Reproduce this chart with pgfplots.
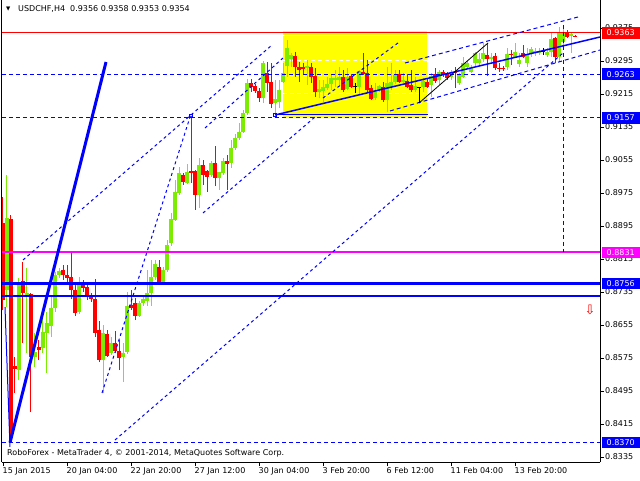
\documentclass[border=0pt]{standalone}
\usepackage{pgfplots}
\pgfplotsset{compat=1.18}
\usepackage{pgfplotstable}
\usepackage{fontspec}
\setmainfont{DejaVu Sans}
\definecolor{cgreen}{RGB}{124,236,0}
\definecolor{cred}{RGB}{255,0,0}
\definecolor{cblue}{RGB}{0,0,255}
\definecolor{cmag}{RGB}{255,0,255}
\definecolor{cyel}{RGB}{255,255,0}

\pgfplotstableread{
i O H L C
1 0.87399 0.90187 0.86987 0.89145
4 0.85460 0.87690 0.85218 0.87569
6 0.87278 0.87933 0.85872 0.87327
8 0.85775 0.86357 0.85533 0.85897
10 0.85993 0.86915 0.85872 0.86381
11 0.86357 0.86866 0.85387 0.86599
12 0.86527 0.87230 0.86260 0.86963
13 0.86963 0.87836 0.86866 0.87763
14 0.87763 0.87933 0.87690 0.87860
19 0.86866 0.87715 0.86818 0.87569
25 0.85703 0.86551 0.84903 0.86357
27 0.85872 0.86260 0.85824 0.86115
30 0.85775 0.86115 0.85169 0.85872
31 0.85897 0.87351 0.85848 0.87012
34 0.86769 0.87133 0.86745 0.87084
35 0.87084 0.87278 0.87012 0.87181
36 0.87133 0.87884 0.87012 0.87327
37 0.87327 0.88127 0.87012 0.87715
38 0.87715 0.88127 0.87642 0.88030
40 0.87569 0.87957 0.87545 0.87884
41 0.87884 0.88611 0.87836 0.88490
42 0.88539 0.89266 0.88466 0.89120
43 0.89096 0.90066 0.89072 0.89775
44 0.89751 0.90381 0.89702 0.90235
46 0.89993 0.90454 0.89969 0.90260
49 0.89702 0.90599 0.89387 0.90429
52 0.90187 0.90526 0.90139 0.90478
54 0.90114 0.90260 0.89823 0.90260
55 0.90235 0.90599 0.90187 0.90526
57 0.90478 0.91035 0.90357 0.90841
58 0.90841 0.91181 0.90793 0.91084
59 0.91084 0.91447 0.91035 0.91229
60 0.91229 0.91763 0.91205 0.91690
61 0.91690 0.92514 0.91641 0.92417
65 0.92053 0.92950 0.91932 0.92902
68 0.91932 0.92490 0.91666 0.92029
69 0.91957 0.92490 0.91811 0.92247
70 0.92441 0.92902 0.92417 0.92659
71 0.92829 0.93459 0.92563 0.93265
72 0.92999 0.93144 0.92805 0.93096
76 0.92781 0.92975 0.92369 0.92829
79 0.92199 0.92490 0.92053 0.92272
80 0.92223 0.92490 0.91957 0.92320
81 0.92296 0.92563 0.92247 0.92393
82 0.92393 0.92611 0.92247 0.92538
83 0.92490 0.92732 0.92320 0.92538
84 0.92490 0.92805 0.92369 0.92563
86 0.92272 0.92781 0.92247 0.92563
89 0.92320 0.92732 0.92126 0.92708
93 0.92053 0.92417 0.92005 0.92247
94 0.92247 0.92369 0.92199 0.92344
96 0.92005 0.92805 0.91714 0.92417
97 0.92320 0.92902 0.92247 0.92441
98 0.92441 0.92732 0.92393 0.92611
100 0.92441 0.92659 0.92417 0.92490
103 0.92247 0.92563 0.92199 0.92344
105 0.92320 0.92538 0.92199 0.92466
107 0.92369 0.92659 0.92078 0.92587
109 0.92490 0.92732 0.92369 0.92684
112 0.92563 0.92732 0.92490 0.92684
114 0.92417 0.92659 0.92369 0.92611
115 0.92563 0.93047 0.92538 0.92902
116 0.92805 0.92975 0.92781 0.92902
117 0.92684 0.92853 0.92659 0.92781
118 0.92902 0.93169 0.92805 0.93144
119 0.92902 0.93144 0.92853 0.92999
120 0.92999 0.93387 0.92926 0.93144
122 0.92999 0.93144 0.92926 0.93047
126 0.92805 0.93265 0.92732 0.93120
128 0.93047 0.93387 0.93023 0.93169
129 0.92878 0.93144 0.92805 0.92975
131 0.92902 0.93265 0.92805 0.93120
132 0.93120 0.93290 0.93047 0.93241
133 0.93144 0.93265 0.93072 0.93193
134 0.93144 0.93265 0.93096 0.93193
136 0.93096 0.93265 0.93047 0.93169
137 0.93169 0.93629 0.93047 0.93484
139 0.93047 0.93775 0.92926 0.93629
140 0.93411 0.93823 0.93338 0.93629
142 0.93556 0.93629 0.93144 0.93605
}\greentab

\pgfplotstableread{
i O H L C
0 0.89023 0.89654 0.86915 0.87157
2 0.89120 0.89217 0.83700 0.83820
3 0.85557 0.85775 0.84903 0.85484
5 0.87618 0.88078 0.86115 0.87327
7 0.87302 0.87327 0.84442 0.85775
9 0.86018 0.86187 0.85703 0.85945
15 0.87884 0.88005 0.87642 0.87763
16 0.87763 0.88005 0.87569 0.87690
17 0.87715 0.88345 0.87181 0.87399
18 0.87399 0.87545 0.86769 0.86842
20 0.87521 0.87642 0.87351 0.87448
21 0.87472 0.87569 0.87157 0.87230
22 0.87230 0.87327 0.87109 0.87181
23 0.87181 0.87666 0.86260 0.86357
24 0.86430 0.86648 0.85654 0.85703
26 0.86333 0.86430 0.85775 0.85800
28 0.86115 0.86406 0.85872 0.85921
29 0.85921 0.86187 0.85460 0.85751
32 0.87036 0.87399 0.86915 0.86963
33 0.87084 0.87205 0.86672 0.86769
39 0.87957 0.88127 0.87545 0.87569
45 0.90187 0.90235 0.89945 0.90017
47 0.90284 0.91620 0.89993 0.90235
48 0.90284 0.90308 0.89339 0.89702
50 0.90429 0.90551 0.89945 0.90187
51 0.90284 0.90308 0.89775 0.90139
53 0.90478 0.90890 0.89920 0.90114
56 0.90526 0.90672 0.89823 0.90454
62 0.92417 0.92514 0.92199 0.92320
63 0.92344 0.92393 0.92175 0.92223
64 0.92223 0.92296 0.91957 0.92053
66 0.92659 0.92926 0.92199 0.92417
67 0.92441 0.92902 0.91811 0.91908
73 0.93072 0.93169 0.92563 0.92805
74 0.92805 0.92926 0.92441 0.92732
75 0.92805 0.92902 0.92611 0.92756
77 0.92805 0.92902 0.92417 0.92563
78 0.92587 0.92781 0.92078 0.92199
85 0.92563 0.92732 0.92199 0.92247
87 0.92587 0.92635 0.92296 0.92320
90 0.92684 0.93144 0.92611 0.92635
91 0.92659 0.92975 0.92199 0.92247
92 0.92296 0.92369 0.92005 0.92029
95 0.92320 0.92441 0.91957 0.92005
99 0.92635 0.92732 0.92417 0.92441
101 0.92466 0.92635 0.92296 0.92320
102 0.92369 0.92732 0.92199 0.92247
106 0.92441 0.92538 0.92296 0.92320
108 0.92635 0.92781 0.92417 0.92466
110 0.92684 0.92732 0.92563 0.92611
111 0.92659 0.92684 0.92490 0.92538
113 0.92684 0.92805 0.92296 0.92659
121 0.93096 0.93387 0.92587 0.92999
123 0.93072 0.93144 0.92732 0.92781
124 0.92781 0.92902 0.92684 0.92756
125 0.92781 0.92829 0.92708 0.92756
127 0.93120 0.93217 0.92853 0.93096
130 0.93144 0.93338 0.93023 0.93047
138 0.93508 0.93532 0.92902 0.93047
141 0.93653 0.93702 0.93508 0.93532
143 0.93560 0.93580 0.93530 0.93540
}\redtab

\pgfplotstableread{
i O H L C
88 0.92344 0.92417 0.92175 0.92344
104 0.92296 0.92320 0.91932 0.92296
135 0.93169 0.93265 0.93096 0.93169
}\dojitab

\begin{document}
\begin{tikzpicture}
\useasboundingbox (0,0) rectangle (640pt,480pt);
\fill[white] (0,0) rectangle (640pt,480pt);
\begin{axis}[
  at={(2pt,18pt)}, anchor=south west,
  scale only axis, width=598pt, height=462pt,
  xmin=-0.25, xmax=149.25, ymin=0.8323, ymax=0.94429,
  axis x line*=bottom, axis y line*=right,
  axis line style={-, line width=1pt, black},
  clip=false,
  xtick={0,16,32,48,64,80,96,112,128},
  xticklabels={15 Jan 2015,20 Jan 04:00,22 Jan 20:00,27 Jan 12:00,30 Jan 04:00,3 Feb 20:00,6 Feb 12:00,11 Feb 04:00,13 Feb 20:00},
  ytick={0.8335,0.8415,0.8495,0.8575,0.8655,0.8735,0.8815,0.8895,0.8975,0.9055,0.9135,0.9215,0.9295,0.9375},
  yticklabel={\pgfmathprintnumber[fixed,fixed zerofill,precision=4]{\tick}},
  /pgf/number format/assume math mode=true,
  tick align=outside, major tick length=4pt,
  tick style={black, line width=0.8pt},
  tick label style={font=\fontsize{8pt}{9pt}\selectfont, text=black},
  xticklabel style={anchor=north west, inner sep=0pt, xshift=-0.5pt, yshift=-1pt},
  yticklabel style={anchor=west, inner sep=0pt, xshift=1pt},
]
% yellow rectangle (background)
\addplot[fill=cyel, draw=none] coordinates {(70,0.9160) (106,0.9160) (106,0.9368) (70,0.9368)} -- cycle;
\addplot[white, line width=0.8pt] coordinates {(70,0.93581) (106,0.93581)};
\addplot[white, line width=0.8pt, dash pattern=on 4pt off 3pt] coordinates {(70,0.92975) (106,0.92975)};
\addplot[white, line width=0.8pt, dash pattern=on 4pt off 3pt] coordinates {(70,0.92175) (106,0.92175)};

% candles: wicks (low to high)
\addplot[cgreen, line width=1pt, -, quiver={u={0}, v={\thisrow{H}-\thisrow{L}}}] table[x=i, y=L] {\greentab};
\addplot[cred, line width=1pt, -, quiver={u={0}, v={\thisrow{H}-\thisrow{L}}}] table[x=i, y=L] {\redtab};
\addplot[black, line width=1pt, -, quiver={u={0}, v={\thisrow{H}-\thisrow{L}}}] table[x=i, y=L] {\dojitab};
% candles: bodies (open to close)
\addplot[cgreen, line width=3.2pt, -, quiver={u={0}, v={\thisrow{C}-\thisrow{O}}}] table[x=i, y=O] {\greentab};
\addplot[cred, line width=3.2pt, -, quiver={u={0}, v={\thisrow{C}-\thisrow{O}}}] table[x=i, y=O] {\redtab};
\addplot[only marks, mark=-, mark size=1.6pt, black, mark options={line width=1pt}] table[x=i, y=O] {\dojitab};

% horizontal levels
\addplot[cred, line width=1pt] coordinates {(-0.25,0.9363) (149.25,0.9363)};
\addplot[cblue, line width=1pt, dash pattern=on 4pt off 3pt] coordinates {(-0.25,0.9263) (149.25,0.9263)};
\addplot[cblue, line width=1pt, dash pattern=on 4pt off 3pt] coordinates {(-0.25,0.9157) (149.25,0.9157)};
\addplot[cblue, line width=1pt, dash pattern=on 4pt off 3pt] coordinates {(-0.25,0.8370) (149.25,0.8370)};
\addplot[cmag, line width=2pt] coordinates {(-0.25,0.8831) (149.25,0.8831)};
\addplot[cblue, line width=3pt] coordinates {(-0.25,0.8756) (149.25,0.8756)};
\addplot[cblue, line width=2pt] coordinates {(-0.25,0.8725) (149.25,0.8725)};

% diagonal objects
\addplot[cblue, line width=3pt] coordinates {(1.75,0.8370) (25.75,0.92926)};
\addplot[cblue, line width=1pt] coordinates {(0.5,0.86987) (1.75,0.83594)};
\addplot[cblue, line width=1pt, dash pattern=on 3pt off 3pt] coordinates {(5,0.88127) (67.25,0.93338)};
\addplot[cblue, line width=1pt, dash pattern=on 3pt off 3pt] coordinates {(50.5,0.91326) (70,0.93023)};
\addplot[cblue, line width=1pt, dash pattern=on 3pt off 3pt] coordinates {(24.75,0.84903) (47,0.91666)};
\addplot[cblue, line width=1pt, dash pattern=on 3pt off 3pt] coordinates {(50,0.89266) (78,0.91593)};
\addplot[cblue, line width=1pt, dash pattern=on 3pt off 3pt] coordinates {(80,0.92053) (98.75,0.93387)};
\addplot[cblue, line width=1pt, dash pattern=on 3pt off 3pt] coordinates {(28,0.83763) (140,0.93144)};
\addplot[cblue, line width=1pt, dash pattern=on 4pt off 3pt] coordinates {(140,0.93823) (140,0.8831)};
\addplot[cblue, line width=1.5pt] coordinates {(68,0.91641) (149.25,0.93532)};
\addplot[cblue, line width=1pt, dash pattern=on 4pt off 3pt] coordinates {(100.5,0.92902) (143.75,0.94017)};
\addplot[cblue, line width=1pt, dash pattern=on 4pt off 3pt] coordinates {(96.75,0.91739) (149.25,0.93217)};
\addplot[cblue, line width=1.5pt] coordinates {(68,0.9165) (106.25,0.9165)};
\addplot[black, line width=0.8pt] coordinates {(104,0.91932) (121.25,0.93387)};
\addplot[only marks, mark=square, mark size=1.8pt, cblue, mark options={line width=1pt}] coordinates {(47,0.9162) (68,0.9164)};

\draw[black, line width=1pt] (rel axis cs:0,0) -- (rel axis cs:0,1);
\node[text=cred, font=\fontsize{13pt}{13pt}\selectfont, inner sep=0pt] at (axis cs:146.75,0.86915) {⇩};

\coordinate (b1) at (axis cs:149.25,0.9363);
\coordinate (b2) at (axis cs:149.25,0.9263);
\coordinate (b3) at (axis cs:149.25,0.9157);
\coordinate (b4) at (axis cs:149.25,0.8831);
\coordinate (b5) at (axis cs:149.25,0.8756);
\coordinate (b6) at (axis cs:149.25,0.8370);
\end{axis}
\tikzset{lbl/.style={anchor=west, xshift=1.5pt, text=white, inner sep=0pt, minimum width=38pt, minimum height=11.5pt, font=\fontsize{8pt}{9pt}\selectfont}}
\node[lbl, fill=cred] at (b1) {0.9363};
\node[lbl, fill=cblue] at (b2) {0.9263};
\node[lbl, fill=cblue] at (b3) {0.9157};
\node[lbl, fill=cmag] at (b4) {0.8831};
\node[lbl, fill=cblue] at (b5) {0.8756};
\node[lbl, fill=cblue] at (b6) {0.8370};
\node[anchor=west, inner sep=0pt, font=\fontsize{5.5pt}{6pt}\selectfont] at (6pt,471pt) {▼};
\node[anchor=west, inner sep=0pt, font=\fontsize{8pt}{9pt}\selectfont] at (18pt,471pt) {USDCHF,H4\ \ 0.9356 0.9358 0.9353 0.9354};
\node[anchor=west, inner sep=0pt, font=\fontsize{8pt}{9pt}\selectfont] at (7pt,27pt) {RoboForex - MetaTrader 4, © 2001-2014, MetaQuotes Software Corp.};
\end{tikzpicture}
\end{document}
